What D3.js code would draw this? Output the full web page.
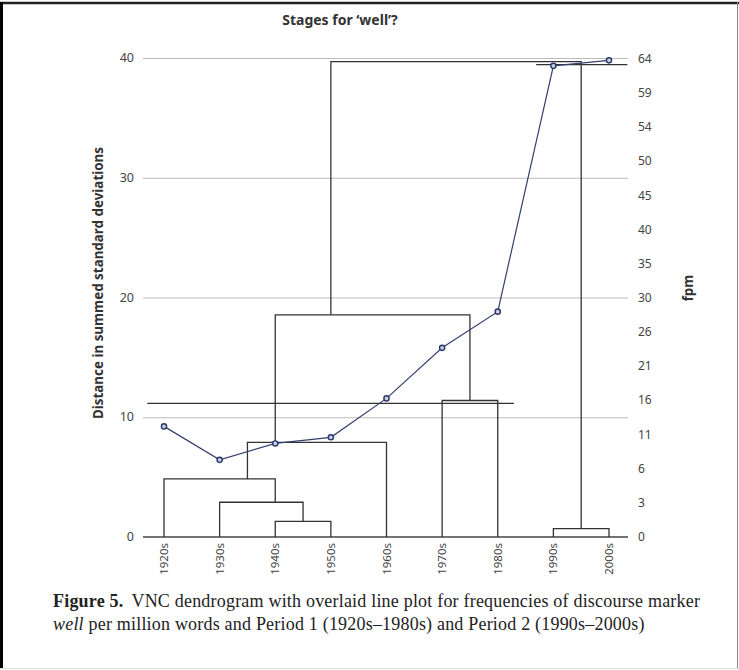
<!DOCTYPE html>
<html>
<head>
<meta charset="utf-8">
<script src="https://cdn.jsdelivr.net/npm/d3@7"></script>
<style>
  body { margin: 0; background: #fff; }
  svg { display: block; }
  .tick-l, .tick-r { font-family: "Noto Sans", sans-serif; fill: #444; }
  .ttl { font-family: "Noto Sans", sans-serif; font-weight: bold; fill: #333; }
  .cap { font-family: "Liberation Serif", serif; fill: #222; }
</style>
</head>
<body>
<svg width="739" height="670"></svg>
<script>
// leaves (decades)
var decades = ["1920s","1930s","1940s","1950s","1960s","1970s","1980s","1990s","2000s"];
// frequencies per million words (right axis)
var fpm = [12.2, 7.3, 9.7, 10.6, 16.3, 23.7, 28.4, 63.0, 63.8];
// dendrogram, hclust style: negative = leaf (1-based), positive = earlier merge
var mergeA = [-3, -2, -1, 3, -6, 4, -8, 6];
var mergeB = [-4,  1,  2, -5, -7, 5, -9, 7];
var mergeH = [1.3, 2.9, 4.85, 7.9, 11.4, 18.55, 0.7, 39.7];
// period cut lines (height, from leaf pos, to leaf pos)
var cutH = [11.16, 39.45];
var cutFrom = [-0.3, 6.69];
var cutTo = [6.29, 8.33];
// axes
var leftTicks = [0, 10, 20, 30, 40];
var fpmTicks = [0, 3, 6, 11, 16, 21, 26, 30, 35, 40, 45, 50, 54, 59, 64];

var svg = d3.select("svg"),
	W = +svg.attr("width"),
	H = +svg.attr("height");

var x = d3.scaleLinear().domain([0, decades.length - 1]).range([164, 609]);
var y = d3.scaleLinear().domain([0, 40]).range([537, 58]);
// right axis labels sit at evenly spaced positions
var idx = d3.scaleLinear().domain([0, fpmTicks.length - 1]).range([537, 59]);
var yR = d3.scaleLinear().domain(fpmTicks).range(fpmTicks.map(function(d, i) { return idx(i); }));

var gx0 = 143, gx1 = 628;

// frame
svg.append("line").attr("x1", 0).attr("x2", W).attr("y1", 3).attr("y2", 3)
	.attr("stroke", "#222").attr("stroke-width", 2.5);
svg.append("line").attr("x1", 1.5).attr("x2", 1.5).attr("y1", 2).attr("y2", 669)
	.attr("stroke", "#000").attr("stroke-width", 3);
svg.append("line").attr("x1", W - 1.5).attr("x2", W - 1.5).attr("y1", 2).attr("y2", 668)
	.attr("stroke", "#888").attr("stroke-width", 1);
svg.append("line").attr("x1", 0).attr("x2", W).attr("y1", 668.5).attr("y2", 668.5)
	.attr("stroke", "#ddd").attr("stroke-width", 1);

// title
svg.append("text").attr("class", "ttl").attr("x", 340).attr("y", 25)
	.attr("text-anchor", "middle").attr("font-size", 14).text("Stages for \u2018well\u2019?");

// grid
svg.selectAll(".grid").data(leftTicks.slice(1)).enter().append("line")
	.attr("x1", gx0).attr("x2", gx1)
	.attr("y1", function(d) { return y(d) + 0.5; }).attr("y2", function(d) { return y(d) + 0.5; })
	.attr("stroke", "#bbb").attr("stroke-width", 1);
svg.append("line").attr("x1", gx0).attr("x2", gx1).attr("y1", y(0)).attr("y2", y(0))
	.attr("stroke", "#444").attr("stroke-width", 1.3);

// left tick labels
svg.selectAll(".tick-l").data(leftTicks).enter().append("text")
	.attr("class", "tick-l").attr("x", 134).attr("y", function(d) { return y(d) + 4; })
	.attr("text-anchor", "end").attr("font-size", 12.5).text(function(d) { return d; });

// right tick labels
svg.selectAll(".tick-r").data(fpmTicks).enter().append("text")
	.attr("class", "tick-r").attr("x", 638).attr("y", function(d) { return yR(d) + 4; })
	.attr("font-size", 12).text(function(d) { return d; });

// axis titles
svg.append("text").attr("class", "ttl").attr("font-size", 13.4)
	.attr("transform", "translate(103," + 283 + ") rotate(-90)")
	.attr("text-anchor", "middle").text("Distance in summed standard deviations");
svg.append("text").attr("class", "ttl").attr("font-size", 13.4)
	.attr("transform", "translate(693," + 288 + ") rotate(-90)")
	.attr("text-anchor", "middle").text("fpm");

// x labels
svg.selectAll(".xl").data(decades).enter().append("text")
	.attr("class", "tick-l").attr("font-size", 11.5)
	.attr("transform", function(d, i) { return "translate(" + (x(i) + 4) + ",543) rotate(-90)"; })
	.attr("text-anchor", "end").text(function(d) { return d; });

// dendrogram
var nodes = [];
var member = function(k) {
	return k < 0 ? [-k - 1] : nodes[k - 1].leaves;
};
var height = function(k) { return k < 0 ? 0 : nodes[k - 1].h; };
mergeA.forEach(function(a, i) {
	var b = mergeB[i];
	var leaves = member(a).concat(member(b));
	nodes.push({ a: a, b: b, h: mergeH[i], leaves: leaves, pos: d3.mean(leaves) });
});
var pos = function(k) { return k < 0 ? -k - 1 : nodes[k - 1].pos; };

var dg = svg.append("g").attr("fill", "none").attr("stroke", "#333").attr("stroke-width", 1.3);
nodes.forEach(function(n) {
	var pa = x(pos(n.a)), pb = x(pos(n.b));
	dg.append("path").attr("d",
		"M" + pa + "," + y(height(n.a)) + "V" + y(n.h) + "H" + pb + "V" + y(height(n.b)));
});

// cut lines
cutH.forEach(function(h, i) {
	dg.append("line").attr("x1", x(cutFrom[i])).attr("x2", x(cutTo[i]))
		.attr("y1", y(h)).attr("y2", y(h));
});

// line plot
var line = d3.line()
	.x(function(d, i) { return x(i); })
	.y(function(d) { return yR(d); });
svg.append("path").datum(fpm).attr("d", line)
	.attr("fill", "none").attr("stroke", "#34406e").attr("stroke-width", 1.2);
svg.selectAll(".pt").data(fpm).enter().append("circle")
	.attr("cx", function(d, i) { return x(i); }).attr("cy", function(d) { return yR(d); })
	.attr("r", 2.6).attr("fill", "#c9cde0").attr("stroke", "#2a3668").attr("stroke-width", 1.4);

// caption
var cap = svg.append("text").attr("class", "cap").attr("font-size", 18).attr("letter-spacing", 0.2);
cap.append("tspan").attr("x", 53).attr("y", 607).attr("font-weight", "bold").text("Figure 5.");
cap.append("tspan").attr("dx", 8).text("VNC dendrogram with overlaid line plot for frequencies of discourse marker");
cap.append("tspan").attr("x", 53).attr("y", 630).attr("font-style", "italic").text("well");
cap.append("tspan").text(" per million words and Period 1 (1920s\u20131980s) and Period 2 (1990s\u20132000s)");
</script>
</body>
</html>
